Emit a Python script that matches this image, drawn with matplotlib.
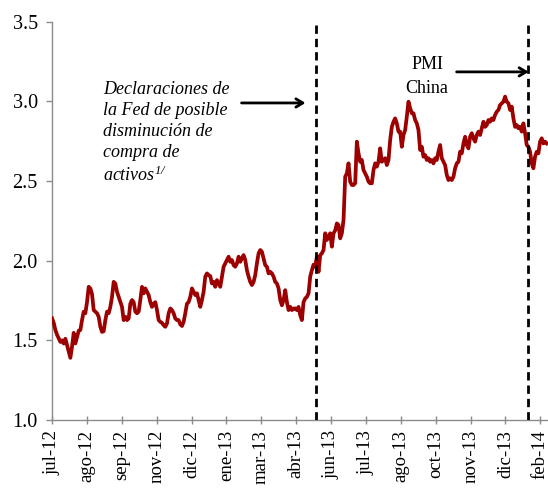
import numpy as np
import matplotlib
matplotlib.use("Agg")
import matplotlib.pyplot as plt

plt.rcParams['font.family'] = ['Liberation Serif', 'DejaVu Serif']
plt.rcParams['mathtext.fontset'] = 'custom'
plt.rcParams['mathtext.rm'] = 'Liberation Serif:italic'
plt.rcParams['mathtext.it'] = 'Liberation Serif:italic'

# Yield series (%), business days from July 2012 to February 2014
yields_2012h2 = [
    1.638, 1.61, 1.565, 1.535, 1.512, 1.49, 1.50, 1.48, 1.51, 1.47,
    1.43, 1.39, 1.46, 1.547, 1.48, 1.52, 1.56, 1.565, 1.627, 1.68,
    1.67, 1.74, 1.836, 1.826, 1.79, 1.69, 1.68, 1.67, 1.648, 1.585,
    1.553, 1.557, 1.627, 1.68, 1.67, 1.71, 1.773, 1.867, 1.857, 1.805,
    1.773, 1.74, 1.71, 1.627, 1.648, 1.627, 1.637, 1.73, 1.753, 1.74,
    1.68, 1.67, 1.68, 1.753, 1.836, 1.795, 1.826, 1.805, 1.784, 1.74,
    1.71, 1.73, 1.74, 1.69, 1.627, 1.616, 1.61, 1.595, 1.585, 1.606,
    1.67, 1.70, 1.69, 1.67, 1.637, 1.627,
]
yields_2013h1 = [
    1.627, 1.60, 1.59, 1.616, 1.67, 1.73, 1.74, 1.773, 1.826, 1.805,
    1.784, 1.795, 1.753, 1.71, 1.753, 1.805, 1.90, 1.92, 1.91, 1.903,
    1.857, 1.867, 1.836, 1.878, 1.857, 1.836, 1.90, 1.962, 1.983, 2.004,
    2.025, 1.993, 2.004, 1.972, 1.962, 1.983, 2.025, 1.993, 2.015, 2.035,
    2.004, 1.94, 1.90, 1.867, 1.847, 1.867, 1.91, 1.983, 2.046, 2.067,
    2.056, 2.015, 1.972, 1.962, 1.92, 1.93, 1.92, 1.90, 1.867, 1.857,
    1.826, 1.753, 1.72, 1.753, 1.815, 1.74, 1.69, 1.71, 1.69, 1.70,
    1.70, 1.69, 1.71, 1.658, 1.627, 1.74, 1.763, 1.773, 1.795, 1.90,
    1.94, 1.975,
]
yields_2013q3 = [
    1.962, 2.025, 1.93, 2.035, 2.046, 2.067, 2.172, 2.13, 2.15, 2.172,
    2.088, 2.172, 2.19, 2.234, 2.224, 2.14, 2.172, 2.255, 2.527, 2.548,
    2.611, 2.496, 2.475, 2.475, 2.486, 2.747, 2.674, 2.621, 2.632, 2.569,
    2.548, 2.527, 2.496, 2.486, 2.486, 2.569, 2.611, 2.59, 2.621, 2.705,
    2.621, 2.632, 2.643, 2.60, 2.632, 2.757, 2.84, 2.872, 2.893, 2.862,
    2.81, 2.81, 2.715, 2.789, 2.82, 2.904, 2.998, 2.957, 2.925, 2.925,
    2.883, 2.862, 2.82, 2.695, 2.715, 2.653,
]
yields_2013q4 = [
    2.663, 2.632, 2.643, 2.621, 2.632, 2.611, 2.643, 2.632, 2.684, 2.726,
    2.643, 2.621, 2.60, 2.538, 2.506, 2.517, 2.506, 2.527, 2.58, 2.611,
    2.621, 2.684, 2.674, 2.736, 2.778, 2.726, 2.705, 2.778, 2.80, 2.768,
    2.747, 2.789, 2.81, 2.789, 2.831, 2.872, 2.84, 2.851, 2.883, 2.872,
    2.893, 2.883, 2.915, 2.935, 2.946, 2.977, 2.988, 2.998, 3.03, 2.998,
    2.988, 2.946, 2.967, 2.893, 2.84, 2.851, 2.831, 2.84, 2.81, 2.862,
    2.80, 2.726, 2.715, 2.684, 2.611, 2.58, 2.653, 2.684, 2.674, 2.747,
    2.768, 2.736, 2.747, 2.736,
]
values = np.array(yields_2012h2 + yields_2013h1 + yields_2013q3 + yields_2013q4)

# Category-axis layout: one position per business day, label every 30 days
n_days = 427
tick_labels = ["jul-12", "ago-12", "sep-12", "nov-12", "dic-12", "ene-13",
               "mar-13", "abr-13", "jun-13", "jul-13", "ago-13", "oct-13",
               "nov-13", "dic-13", "feb-14"]
tick_step = 30
event_days = [227, 409]   # Fed tapering remarks, China PMI

x = np.linspace(0, n_days - 1.5, len(values))

fig = plt.figure(figsize=(5.48, 4.88), dpi=100)
ax = fig.add_axes([51.7 / 548, 68 / 488, (548 - 51.7) / 548, (420 - 21.7) / 488])

ax.plot(x, values, color="#9c0000", lw=2.7, solid_joinstyle="round", zorder=3)

for d in event_days:
    ax.plot([d, d], [1.0, 3.5], color="black", lw=2.0,
            linestyle=(0, (3.0, 1.8)), zorder=4)

ax.set_xlim(-0.3, n_days - 0.4)
ax.set_ylim(1.0, 3.5)
ax.set_yticks(np.arange(1.0, 3.51, 0.5))
ax.yaxis.set_major_formatter(matplotlib.ticker.FormatStrFormatter("%.1f"))
ax.set_xticks(np.arange(len(tick_labels)) * tick_step)
ax.set_xticklabels(tick_labels, rotation=90)

for side in ("top", "right"):
    ax.spines[side].set_visible(False)
for side in ("left", "bottom"):
    ax.spines[side].set_color("#8c8c8c")
    ax.spines[side].set_linewidth(1.0)

ax.tick_params(axis="y", direction="out", length=4, width=1.0,
               color="#8c8c8c", labelsize=14.5, pad=6)
ax.tick_params(axis="x", direction="inout", length=6, width=1.0,
               color="#8c8c8c", labelsize=13.5, pad=4)

ax.text(44, 3.125,
        "Declaraciones de\nla Fed de posible\ndisminución de\ncompra de\nactivos$^{1/}$",
        fontsize=13, style="italic", ha="left", va="top", linespacing=1.3)
ax.annotate("", xy=(218, 2.99), xytext=(163, 2.99),
            arrowprops=dict(arrowstyle="->,head_length=0.5,head_width=0.3",
                            lw=2.0, color="black", shrinkA=0, shrinkB=0))

ax.text(322.6, 3.155, "PMI\nChina", fontsize=13, ha="center", va="center",
        linespacing=1.5)
ax.annotate("", xy=(410, 3.185), xytext=(348, 3.185),
            arrowprops=dict(arrowstyle="->,head_length=0.5,head_width=0.3",
                            lw=2.0, color="black", shrinkA=0, shrinkB=0))

fig.savefig("out.png", dpi=100)
